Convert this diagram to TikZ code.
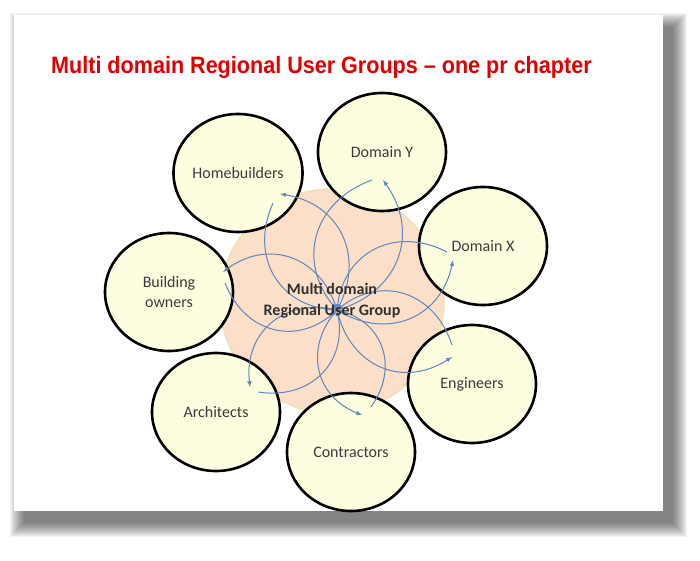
\documentclass[tikz,border=0pt]{standalone}
\usepackage{fontspec}
\setmainfont{Carlito}
\newfontfamily\titlefont[FakeStretch=0.91]{Liberation Sans}
\usetikzlibrary{shapes.geometric}
\definecolor{cream}{RGB}{253,253,224}
\definecolor{peach}{RGB}{251,223,200}
\definecolor{hubrim}{RGB}{238,226,182}
\definecolor{linkblue}{RGB}{95,135,185}
\definecolor{labelgrey}{RGB}{60,60,60}
\definecolor{titlered}{RGB}{224,0,0}

\begin{document}
\begin{tikzpicture}[x=1pt,y=-1pt,>=latex,
        member/.style={ellipse,draw=black,line width=2.6pt,fill=cream,minimum width=128pt,minimum height=118pt,inner sep=0pt,text=labelgrey,font=\fontsize{16}{20}\selectfont,align=center},
        link/.style={draw=linkblue,line width=1pt}]
        \useasboundingbox (0,0) rectangle (700,561);
        % slide and its shadow
        \foreach \i in {0,...,14}
        {
            \fill[black,opacity=0.045] (24-\i,27-\i) rectangle (673+\i,523+\i);
        }
        \fill[white] (14,15) rectangle (663,511);
        \node[anchor=base west,inner sep=0pt,text=titlered,font=\titlefont\bfseries\fontsize{23.7}{28}\selectfont] (title) at (51,74) {Multi domain Regional User Groups – one pr chapter};
        \node[circle,fill=peach,draw=hubrim,line width=1.5pt,minimum size=224pt] (hub) at (332,301) {};
        \foreach \n/\x/\y/\t in {hb/238/173/Homebuilders,dy/382/152/Domain Y,dx/483/246/Domain X,bo/169/292/{Building\\owners},en/472/384/Engineers,ar/216/412/Architects,co/351/452/Contractors}
        {
            \node[member] (\n) at (\x,\y) {\t};
        }
        \coordinate (core) at (337,310);
        \foreach \n/\tx/\ty/\sx/\sy in {hb/280/194/273/203,dy/383/180/372/180,dx/453/260/447/252,bo/223/272/225/283,en/452/357/452/345,ar/250/387/258/392,co/362/415/371/407}
        {
            \coordinate (\n tip) at (\tx,\ty);
            \coordinate (\n tail) at (\sx,\sy);
            \draw[link,->] (core) to[bend right=55,looseness=1.2] (\n tip);
            \draw[link,->] (\n tail) to[bend right=55,looseness=1.2] (core);
        }
        \node[align=center,text=labelgrey!80!black,font=\bfseries\fontsize{16}{21}\selectfont] (hubtext) at (hub.center) {Multi domain\\Regional User Group};
    \end{tikzpicture}
\end{document}
